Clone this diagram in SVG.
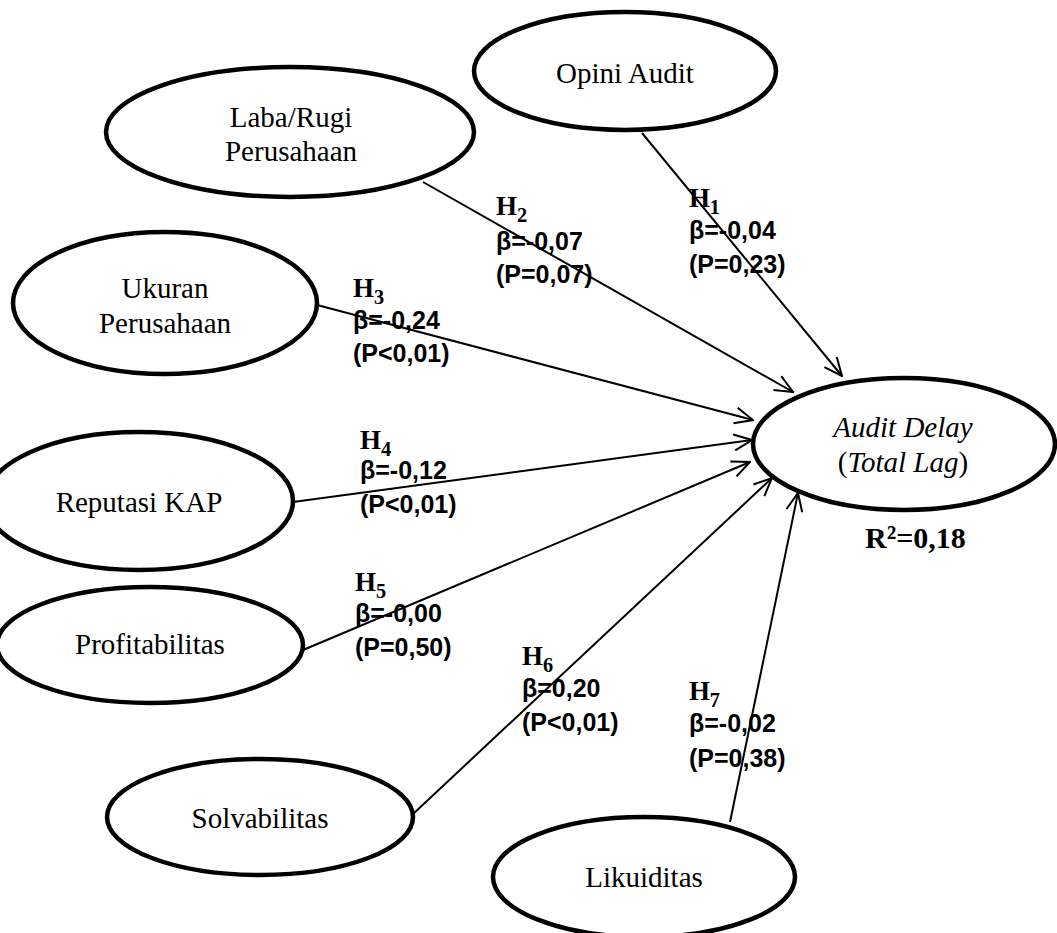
<svg xmlns="http://www.w3.org/2000/svg" width="1057" height="933" viewBox="0 0 1057 933">
<style>
.node{fill:#fff;stroke:#000;stroke-width:4.5}
.nt{font-family:"Liberation Serif","Times New Roman",serif;font-size:29px;fill:#000;text-anchor:middle}
.conn{stroke:#000;stroke-width:2;fill:none}
.h{font-family:"Liberation Serif","DejaVu Serif",serif;font-size:27px;font-weight:bold;fill:#000}
.sub{font-size:34px}
.sup{font-size:32px}
.r2{font-family:"Liberation Serif","DejaVu Serif",serif;font-size:30px;font-weight:bold;fill:#000}
.lb{font-family:"Liberation Sans",Arial,sans-serif;font-size:25px;font-weight:bold;fill:#000}
</style>
<defs>
<marker id="arr" viewBox="0 0 20 20" refX="19" refY="10" markerWidth="20" markerHeight="20" markerUnits="userSpaceOnUse" orient="auto">
<path d="M1,2 L19,10 L1,18" fill="none" stroke="#000" stroke-width="2"/>
</marker>
</defs>
<rect width="1057" height="933" fill="#fff"/>
<g id="connectors">
<line class="conn" x1="642" y1="133" x2="842" y2="376" marker-end="url(#arr)"/>
<line class="conn" x1="423" y1="182" x2="793" y2="392" marker-end="url(#arr)"/>
<line class="conn" x1="317" y1="305" x2="753" y2="420" marker-end="url(#arr)"/>
<line class="conn" x1="293" y1="502" x2="752" y2="440" marker-end="url(#arr)"/>
<line class="conn" x1="303" y1="650" x2="750" y2="462" marker-end="url(#arr)"/>
<line class="conn" x1="413" y1="814" x2="772" y2="478" marker-end="url(#arr)"/>
<line class="conn" x1="730" y1="822" x2="798" y2="493" marker-end="url(#arr)"/>
</g>
<g id="node-opini">
<ellipse class="node" cx="625" cy="71" rx="151" ry="59"/>
<text class="nt" x="625" y="83">Opini Audit</text>
</g>
<g id="node-laba">
<ellipse class="node" cx="290" cy="132" rx="184" ry="65"/>
<text class="nt" x="291" y="127">Laba/Rugi</text>
<text class="nt" x="291" y="161">Perusahaan</text>
</g>
<g id="node-ukuran">
<ellipse class="node" cx="165" cy="303" rx="152" ry="71"/>
<text class="nt" x="165" y="298">Ukuran</text>
<text class="nt" x="165" y="333">Perusahaan</text>
</g>
<g id="node-reputasi">
<ellipse class="node" cx="139" cy="501" rx="154" ry="69"/>
<text class="nt" x="139" y="512">Reputasi KAP</text>
</g>
<g id="node-profitabilitas">
<ellipse class="node" cx="150" cy="645" rx="153" ry="58"/>
<text class="nt" x="150" y="654">Profitabilitas</text>
</g>
<g id="node-solvabilitas">
<ellipse class="node" cx="260" cy="817" rx="153" ry="58"/>
<text class="nt" x="260" y="828">Solvabilitas</text>
</g>
<g id="node-likuiditas">
<ellipse class="node" cx="644" cy="877" rx="151" ry="60"/>
<text class="nt" x="644" y="887">Likuiditas</text>
</g>
<g id="node-auditdelay">
<ellipse class="node" cx="904" cy="444" rx="151" ry="66"/>
<text class="nt" x="903" y="437" font-style="italic">Audit Delay</text>
<text class="nt" x="903" y="472">(<tspan font-style="italic">Total Lag</tspan>)</text>
<text class="r2" x="865" y="548">R<tspan class="sup">²</tspan>=0,18</text>
</g>
<g id="labels">
<text class="h" x="689" y="207">H<tspan class="sub">₁</tspan></text>
<text class="lb" x="689" y="239">β=-0,04</text>
<text class="lb" x="689" y="273">(P=0,23)</text>
<text class="h" x="496" y="215">H<tspan class="sub">₂</tspan></text>
<text class="lb" x="496" y="250">β=-0,07</text>
<text class="lb" x="496" y="283">(P=0,07)</text>
<text class="h" x="353" y="297">H<tspan class="sub">₃</tspan></text>
<text class="lb" x="353" y="329">β=-0,24</text>
<text class="lb" x="353" y="362">(P&lt;0,01)</text>
<text class="h" x="360" y="449">H<tspan class="sub">₄</tspan></text>
<text class="lb" x="360" y="479">β=-0,12</text>
<text class="lb" x="360" y="513">(P&lt;0,01)</text>
<text class="h" x="355" y="591">H<tspan class="sub">₅</tspan></text>
<text class="lb" x="355" y="622">β=-0,00</text>
<text class="lb" x="355" y="656">(P=0,50)</text>
<text class="h" x="522" y="665">H<tspan class="sub">₆</tspan></text>
<text class="lb" x="522" y="697">β=0,20</text>
<text class="lb" x="522" y="731">(P&lt;0,01)</text>
<text class="h" x="689" y="700">H<tspan class="sub">₇</tspan></text>
<text class="lb" x="689" y="732">β=-0,02</text>
<text class="lb" x="689" y="767">(P=0,38)</text>
</g>
</svg>
